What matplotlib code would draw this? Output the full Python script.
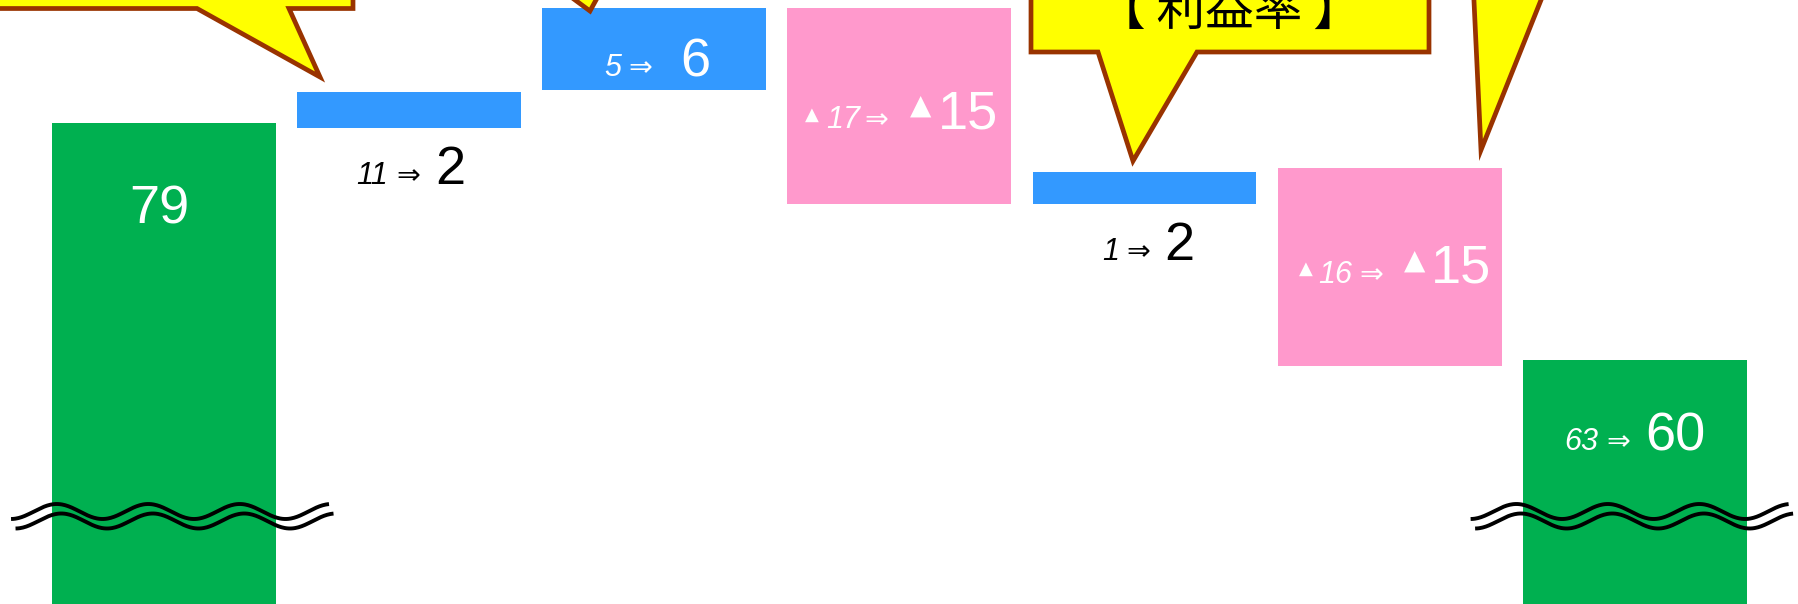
import numpy as np
import matplotlib
matplotlib.use("Agg")
import matplotlib.pyplot as plt
from matplotlib.patches import Polygon
from matplotlib.transforms import IdentityTransform

# ---------------- data ----------------
positions = [0, 1, 2, 3, 4, 5, 6]
total_pos = [0, 6]
total_vals = [79.0, 60.9]            # total bars (axis is broken below)
step_pos = [1, 2, 3, 4, 5]
step_bottom = [78.6, 81.5, 72.8, 72.8, 60.5]
step_top = [81.4, 87.8, 87.8, 75.3, 75.6]
step_sign = ["up", "up", "down", "up", "down"]
prev_labels = ["", "11", "5", "▲17", "1", "▲16", "63"]
curr_labels = ["79", "2", "6", "▲15", "2", "▲15", "60"]
callout_text = "【 利益率 】"

# ---------------- style ----------------
W, H, DPI = 1798, 604, 100
C_TOTAL = "#00B050"
C_UP = "#3399FF"
C_DOWN = "#FF99CC"
C_YELLOW = "#FFFF00"
C_EDGE = "#993300"
NUM_FONT = "Liberation Sans"
ARROW_FONT = "DejaVu Sans"
TRI_FONT = "DejaVu Sans"
BIG, SMALL, ARROW, TRI_BIG, TRI_SMALL = 39, 22, 20.5, 20, 13

fig = plt.figure(figsize=(W / DPI, H / DPI), dpi=DPI)
ax = fig.add_axes([0, 0, 1, 1])
ax.set_xlim(-0.667, 6.665)
ax.set_ylim(42.3, 88.4)
ax.axis("off")

bw = 0.913
ax.bar(total_pos, total_vals, width=bw, color=C_TOTAL, zorder=2)
heights = [t - b for t, b in zip(step_top, step_bottom)]
colors = [C_UP if s == "up" else C_DOWN for s in step_sign]
ax.bar(step_pos, heights, bottom=step_bottom, width=bw, color=colors, zorder=2)

# ---------------- value labels ----------------
# anchor for each bar: (value, baseline offset in px, text color)
anchors = {
    0: (total_vals[0], -100, "white"),
    1: (step_bottom[0], -56, "black"),
    2: (step_top[1], -68.5, "white"),
    3: (step_top[2], -120.5, "white"),
    4: (step_bottom[3], -56, "black"),
    5: (step_top[4], -115, "white"),
    6: (total_vals[1], -90, "white"),
}
# horizontal centers (px, relative to bar center) of the label pieces
layout = {
    0: {"cnum": -4.5},
    1: {"pnum": -36.5, "arrow": 0, "cnum": 42},
    2: {"pnum": -41.5, "arrow": -13.5, "cnum": 41},
    3: {"ptri": -87.5, "pnum": -56, "arrow": -22.5, "ctri": 21.5, "cnum": 68.5},
    4: {"pnum": -33.5, "arrow": -6.5, "cnum": 34.5},
    5: {"ptri": -83.5, "pnum": -54, "arrow": -18, "ctri": 25, "cnum": 71.5},
    6: {"pnum": -54, "arrow": -17, "cnum": 40},
}


def put(x, y, s, dx, dy, size, color, family, style="normal"):
    ax.annotate(s, xy=(x, y), xytext=(dx, dy), textcoords="offset pixels",
                ha="center", va="baseline", fontsize=size, color=color,
                family=family, style=style, zorder=4, annotation_clip=False)


for i in positions:
    yv, dy, col = anchors[i]
    lay = layout[i]
    p = prev_labels[i]
    c = curr_labels[i]
    ptri, pnum = (p.startswith("▲"), p.lstrip("▲"))
    ctri, cnum = (c.startswith("▲"), c.lstrip("▲"))
    if "pnum" in lay:
        put(i, yv, pnum, lay["pnum"], dy, SMALL, col, NUM_FONT, "italic")
    if ptri:
        put(i, yv, "▲", lay["ptri"], dy + 9, TRI_SMALL, col, TRI_FONT)
    if "arrow" in lay:
        put(i, yv, "⇒", lay["arrow"], dy, ARROW, col, ARROW_FONT, "italic")
    if ctri:
        put(i, yv, "▲", lay["ctri"], dy + 14.5, TRI_BIG, col, TRI_FONT)
    put(i, yv, cnum, lay["cnum"], dy, BIG, col, NUM_FONT)

# ---------------- axis-break marks ----------------
def wave(x0, x1, yc, amp, period):
    xs = np.linspace(x0, x1, 300)
    ys = yc - amp * np.cos(2 * np.pi * (xs - x0) / period)
    return xs, ys

px_x = 1 / 245.25   # data units per px (x)
px_y = 1 / 13.102   # data units per px (y)
for x0 in (-0.622, 5.330):
    xs, ys = wave(x0, x0 + 318 * px_x, 49.36, 7.5 * px_y, 91.5 * px_x)
    ax.plot(xs, ys, color="black", lw=2.8, zorder=3, solid_capstyle="butt")
    ax.plot(xs + 4.5 * px_x, ys - 9.5 * px_y, color="black", lw=2.8,
            zorder=3, solid_capstyle="butt")

# ---------------- callouts (decorations, pixel geometry, y down) ----------------
callouts = [
    [(-50, -100), (353, -100), (353, 8.5), (289, 8.5), (320, 77), (197, 8.5), (-50, 8.5)],
    [(500, -200), (700, -200), (700, -20), (607, -20), (590, 11), (548, -20), (500, -20)],
    [(1031, -100), (1429, -100), (1429, 52), (1197, 52), (1133, 161), (1098, 52), (1031, 52)],
    [(1400, -200), (1700, -200), (1700, -20), (1549, -20), (1481, 150), (1473, -20), (1400, -20)],
]
for pts in callouts:
    disp = [(x, H - y) for x, y in pts]
    fig.add_artist(Polygon(disp, closed=True, transform=IdentityTransform(),
                           facecolor=C_YELLOW, edgecolor=C_EDGE, lw=3.4,
                           joinstyle="miter", zorder=5))

fig.text(1229.5 / W, 1 - 24.5 / H, callout_text, ha="center", va="baseline",
         fontsize=35, color="black",
         family=["Noto Sans CJK JP", "DejaVu Sans"], zorder=6)

fig.savefig("out.png", dpi=DPI)
